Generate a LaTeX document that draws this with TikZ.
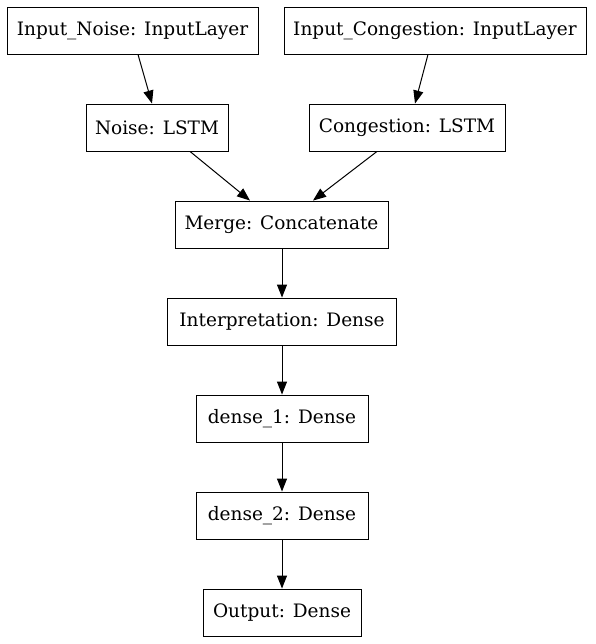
\documentclass[tikz,border=0pt]{standalone}
\usepackage{fontspec}
\setmainfont{DejaVu Serif}
\usetikzlibrary{arrows.meta}
\begin{document}
\begin{tikzpicture}[x=1pt,y=-1pt,
  layer/.style={draw, line width=0.9pt, inner sep=0pt, minimum height=47pt, font=\fontsize{18.5}{22}\selectfont},
  edge/.style={line width=1pt, -{Triangle[length=13pt,width=10pt]}}]
\useasboundingbox (0,0) rectangle (595,644);
\node[layer, minimum width=251pt] (in1) at (132.5,30.5) {Input\_Noise: InputLayer};
\node[layer, minimum width=302pt] (in2) at (435,30.5) {Input\_Congestion: InputLayer};
\node[layer, minimum width=142pt] (noise) at (157,127.5) {Noise: LSTM};
\node[layer, minimum width=196pt] (cong) at (407,127.5) {Congestion: LSTM};
\node[layer, minimum width=213pt] (merge) at (281.5,224.5) {Merge: Concatenate};
\node[layer, minimum width=229pt] (interp) at (282,321.5) {Interpretation: Dense};
\node[layer, minimum width=172pt] (d1) at (282,418.5) {dense\_1: Dense};
\node[layer, minimum width=172pt] (d2) at (282,515.5) {dense\_2: Dense};
\node[layer, minimum width=158pt] (out) at (282,612.5) {Output: Dense};
\draw[edge] ([xshift=5.5pt]in1.south) -- ([xshift=-5pt]noise.north);
\draw[edge] ([xshift=-7pt]in2.south) -- ([xshift=8pt]cong.north);
\draw[edge] ([xshift=33pt]noise.south) -- ([xshift=-31.5pt]merge.north);
\draw[edge] ([xshift=-30pt]cong.south) -- ([xshift=31.5pt]merge.north);
\draw[edge] ([xshift=0.5pt]merge.south) -- (interp.north);
\draw[edge] (interp.south) -- (d1.north);
\draw[edge] (d1.south) -- (d2.north);
\draw[edge] (d2.south) -- (out.north);
\end{tikzpicture}
\end{document}
